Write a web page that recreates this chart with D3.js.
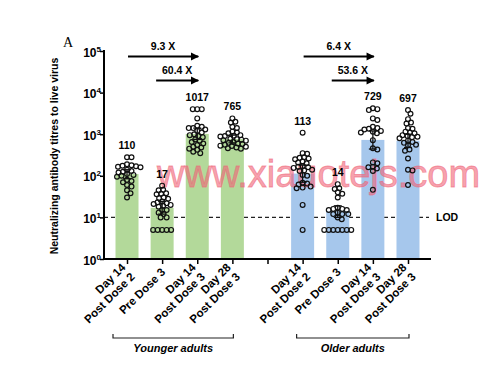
<!DOCTYPE html>
<html>
<head>
<meta charset="utf-8">
<script src="https://cdn.jsdelivr.net/npm/d3@7"></script>
<style>
  body { margin: 0; background: #fff; }
  svg { display: block; font-family: "Liberation Sans", Arial, sans-serif; }
</style>
</head>
<body>
<svg id="chart" width="500" height="368"></svg>
<script>
// categories on the x axis (a blank slot sits between the two groups)
var groups = ["Younger adults", "Older adults"];
var conditions = [["Day 14", "Post Dose 2"], ["Pre Dose 3"], ["Day 14", "Post Dose 3"], ["Day 28", "Post Dose 3"]];

// geometric mean titres (bar heights and labels)
var youngerGMT = [110, 17, 1017, 765];
var olderGMT = [113, 14, 729, 697];

// 95% CI of the geometric mean
var youngerCI = [[85, 140], [12, 24], [750, 1400], [620, 950]];
var olderCI = [[70, 180], [10, 19], [440, 1200], [480, 1000]];

// individual titres
var youngerDots = [
  [280, 280, 190, 180, 175, 170, 165, 160, 140, 130, 125, 120, 110, 105, 100, 95, 80, 75, 70, 60, 55, 45, 38, 30],
  [58, 46, 45, 38, 37, 36, 30, 29, 28, 24, 23, 22, 21, 20, 19, 18, 15, 15, 13, 12, 10, 10, 5, 5, 5, 5, 5],
  [4000, 4000, 4000, 2400, 1600, 1500, 1400, 1400, 1300, 1200, 1100, 1000, 950, 900, 850, 750, 700, 650, 600, 550, 500, 480, 450, 420, 380, 350],
  [2400, 2000, 1900, 1500, 1400, 1150, 1100, 1050, 950, 920, 900, 880, 780, 760, 740, 720, 700, 650, 620, 600, 580, 560, 530, 520, 500, 480, 460, 450]
];
var olderDots = [
  [1090, 350, 340, 280, 270, 260, 250, 220, 210, 200, 170, 165, 160, 155, 140, 135, 130, 105, 100, 68, 65, 62, 55, 52, 50, 20, 5],
  [63, 50, 48, 40, 37, 30, 17, 16, 16, 15, 15, 13, 12, 12, 12, 10, 9, 5, 5, 5, 5, 5, 5, 5],
  [4200, 4000, 3800, 2400, 2200, 1500, 1400, 1350, 1300, 1200, 1150, 1100, 1050, 720, 460, 430, 210, 200, 165, 160, 150, 130, 46],
  [3800, 3100, 2300, 1900, 1800, 1400, 1350, 1150, 1100, 1050, 950, 900, 870, 850, 800, 700, 650, 620, 560, 540, 430, 400, 260, 140, 135, 60]
];

// fold-change arrows: from condition index -> to condition index
var youngerFolds = [{from: 0, to: 2, label: "9.3 X"}, {from: 1, to: 2, label: "60.4 X"}];
var olderFolds = [{from: 0, to: 2, label: "6.4 X"}, {from: 1, to: 2, label: "53.6 X"}];

var yTicks = [1, 10, 100, 1000, 10000, 100000];
var lod = 10;

var groupColors = ["#b3d99a", "#a6c7ec"];

var svg = d3.select("#chart");
var plotL = 104, plotR = 431, plotT = 51, plotB = 259;

var slots = ["y0", "y1", "y2", "y3", "gap", "o0", "o1", "o2", "o3"];
var x = d3.scalePoint().domain(slots).range([plotL, plotR]).padding(0.655);
var y = d3.scaleLog().domain([1, 1e5]).range([plotB, plotT]);

var rows = [];
[[youngerGMT, youngerCI, youngerDots, "y"], [olderGMT, olderCI, olderDots, "o"]].forEach(function(g, gi) {
  g[0].forEach(function(v, i) {
    rows.push({key: g[3] + i, group: gi, cond: i, gmt: v, ci: g[1][i], dots: g[2][i]});
  });
});

// LOD dashed line (behind bars)
svg.append("line")
  .attr("x1", plotL).attr("x2", plotR - 2)
  .attr("y1", y(lod)).attr("y2", y(lod))
  .attr("stroke", "#222").attr("stroke-width", 1.2)
  .attr("stroke-dasharray", "4,3");
svg.append("text")
  .attr("x", plotR + 5).attr("y", y(lod) + 3.5)
  .attr("font-size", 10.5).attr("font-weight", "bold")
  .text("LOD");

var barW = 23;
svg.selectAll(".bar").data(rows).enter().append("rect")
  .attr("class", "bar")
  .attr("x", function(d) { return x(d.key) - barW / 2; })
  .attr("width", barW)
  .attr("y", function(d) { return y(d.gmt); })
  .attr("height", function(d) { return plotB - y(d.gmt); })
  .attr("fill", function(d) { return groupColors[d.group]; });

// watermark (sits under the marks)
svg.append("text")
  .attr("x", 157).attr("y", 187)
  .attr("font-size", 38)
  .attr("fill", "#f06478").attr("fill-opacity", 0.6)
  .attr("stroke", "#f06478").attr("stroke-opacity", 0.6).attr("stroke-width", 0.8)
  .text("www.xiauotejs.com");

// simple beeswarm so dots don't pile up
var r = 2.4, minGap = 4.3;
function swarm(values) {
  var placed = [];
  values.slice().sort(function(a, b) { return b - a; }).forEach(function(v) {
    var py = y(v), best = null;
    for (var k = 0; k < 200 && best === null; k++) {
      var off = (k % 2 ? 1 : -1) * Math.ceil(k / 2) * 0.5;
      var ok = placed.every(function(p) {
        var dx = p.dx - off, dy = p.y - py;
        return dx * dx + dy * dy >= minGap * minGap;
      });
      if (ok) best = off;
    }
    placed.push({dx: best, y: py, v: v});
  });
  return placed;
}

rows.forEach(function(d) {
  var cx = x(d.key);
  var pts = swarm(d.dots);
  // error bar
  var eb = svg.append("g").attr("stroke", "#111").attr("stroke-width", 1.3);
  eb.append("line").attr("x1", cx).attr("x2", cx).attr("y1", y(d.ci[0])).attr("y2", y(d.ci[1]));
  eb.append("line").attr("x1", cx - 4).attr("x2", cx + 4).attr("y1", y(d.ci[0])).attr("y2", y(d.ci[0]));
  eb.append("line").attr("x1", cx - 4).attr("x2", cx + 4).attr("y1", y(d.ci[1])).attr("y2", y(d.ci[1]));

  svg.selectAll(null).data(pts).enter().append("circle")
    .attr("cx", function(p) { return cx + p.dx; })
    .attr("cy", function(p) { return p.y; })
    .attr("r", r)
    .attr("fill", "none")
    .attr("stroke", "#111")
    .attr("stroke-width", 1.2);

  svg.append("text")
    .attr("x", cx).attr("y", y(d3.max(d.dots)) - 8)
    .attr("text-anchor", "middle")
    .attr("font-size", 10.5).attr("font-weight", "bold")
    .text(d.gmt);
});

// fold-change arrows
var defs = svg.append("defs");
defs.append("marker").attr("id", "arr")
  .attr("viewBox", "0 0 10 10").attr("refX", 9).attr("refY", 5)
  .attr("markerWidth", 5).attr("markerHeight", 4.5)
  .attr("markerUnits", "strokeWidth")
  .attr("orient", "auto")
  .append("path").attr("d", "M0,0L10,5L0,10z").attr("fill", "#000");

[[youngerFolds, "y"], [olderFolds, "o"]].forEach(function(g) {
  g[0].forEach(function(f, i) {
    var x1 = x(g[1] + f.from) + (i ? -6 : 1), x2 = x(g[1] + f.to) + 1;
    var ay = 56.5 + i * 24;
    svg.append("line")
      .attr("x1", x1).attr("x2", x2).attr("y1", ay).attr("y2", ay)
      .attr("stroke", "#000").attr("stroke-width", 1.8)
      .attr("marker-end", "url(#arr)");
    svg.append("text")
      .attr("x", (x1 + x2) / 2).attr("y", ay - 7)
      .attr("text-anchor", "middle")
      .attr("font-size", 10.5).attr("font-weight", "bold")
      .text(f.label);
  });
});

// y axis
var yAxis = svg.append("g").attr("transform", "translate(" + plotL + ",0)")
  .call(d3.axisLeft(y).tickValues(yTicks).tickSize(4).tickFormat(""));
yAxis.attr("font-family", null).attr("font-size", null);
yAxis.select(".domain").attr("stroke-width", 2).attr("d", "M0," + (plotT - 1) + "V" + plotB);
yAxis.selectAll(".tick line").attr("stroke-width", 1.5);
yAxis.selectAll(".tick text").remove();
yAxis.selectAll(".tick").each(function(v) {
  var t = d3.select(this).append("text")
    .attr("x", -3).attr("y", 5)
    .attr("text-anchor", "end")
    .attr("fill", "#000")
    .style("font-size", "12px").style("font-weight", "bold");
  t.append("tspan").text("10");
  t.append("tspan").attr("dy", -5).style("font-size", "8px").text(Math.round(Math.log10(v)));
});

svg.append("text")
  .attr("transform", "translate(58," + ((plotT + plotB) / 2 + 1) + ") rotate(-90)")
  .attr("text-anchor", "middle")
  .attr("font-size", 10.5).attr("font-weight", "bold")
  .text("Neutralizing antibody titres to live virus");

// x axis
var xAxis = svg.append("g").attr("transform", "translate(0," + plotB + ")")
  .call(d3.axisBottom(x).tickSize(5).tickFormat(""));
xAxis.select(".domain").attr("stroke-width", 2).attr("d", "M" + (plotL - 1) + ",0H" + plotR);
xAxis.selectAll(".tick line").attr("stroke-width", 1.5);

rows.forEach(function(d) {
  var lines = conditions[d.cond];
  var t = svg.append("text")
    .attr("transform", "translate(" + (x(d.key) + 1) + "," + (plotB + 11) + ") rotate(-45)")
    .attr("text-anchor", "end")
    .attr("font-size", 11.5).attr("font-weight", "bold");
  lines.forEach(function(l, i) {
    t.append("tspan").attr("x", 0)
      .attr("y", (i - (lines.length - 1) / 2) * 13 + 4)
      .text(l);
  });
});

// group brackets
var brackets = [["y0", "y3"], ["o0", "o3"]];
groups.forEach(function(name, gi) {
  var bx1 = x(brackets[gi][0]) - 14, bx2 = x(brackets[gi][1]) + 1;
  if (gi === 1) { bx1 = x(brackets[gi][0]) - 6; }
  var by = 338;
  svg.append("path")
    .attr("d", "M" + bx1 + "," + (by - 4) + "V" + by + "H" + bx2 + "V" + (by - 4))
    .attr("fill", "none").attr("stroke", "#222").attr("stroke-width", 1.2);
  svg.append("text")
    .attr("x", (bx1 + bx2) / 2).attr("y", by + 14)
    .attr("text-anchor", "middle")
    .attr("font-size", 11).attr("font-weight", "bold").attr("font-style", "italic")
    .text(name);
});

// panel letter
svg.append("text")
  .attr("x", 63).attr("y", 47)
  .attr("font-family", "Liberation Serif, Times New Roman, serif")
  .attr("font-size", 14)
  .text("A");
</script>
</body>
</html>
